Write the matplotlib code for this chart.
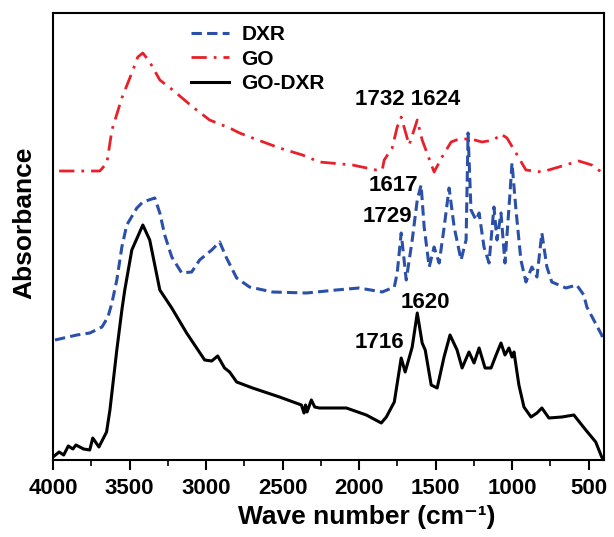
import numpy as np
import matplotlib.pyplot as plt
from matplotlib.ticker import MultipleLocator

plt.rcParams['font.family'] = ['Liberation Sans', 'DejaVu Sans']
plt.rcParams['font.weight'] = 'bold'

# ---------------------------------
# SPECTRA (arbitrary absorbance units, offsets included)
# ---------------------------------

go_wn = [3960, 3694, 3648, 3615, 3550, 3485, 3446, 3413, 3368, 3302, 3218, 3087,
         2977, 2846, 2781, 2696, 2520, 2370, 2260, 2044, 1888, 1849, 1836, 1784,
         1751, 1725, 1673, 1620, 1588, 1510, 1458, 1399, 1347, 1269, 1197, 1119,
         1073, 1034, 975, 910, 806, 695, 565, 480, 400]
go_abs = [2.89, 2.89, 2.97, 3.30, 3.62, 3.87, 4.03, 4.07, 3.98, 3.80, 3.70, 3.53,
          3.40, 3.32, 3.27, 3.22, 3.12, 3.05, 2.98, 2.95, 2.90, 2.90, 3.00, 3.12,
          3.33, 3.43, 3.15, 3.40, 3.20, 2.88, 3.03, 3.18, 3.21, 3.21, 3.18, 3.20,
          3.26, 3.22, 3.07, 2.90, 2.88, 2.93, 2.99, 2.95, 2.86]

dxr_wn = [3987, 3844, 3759, 3680, 3641, 3615, 3583, 3550, 3518, 3452, 3413, 3335,
          3302, 3270, 3224, 3159, 3094, 3042, 2963, 2911, 2866, 2800, 2716, 2566,
          2344, 2149, 2000, 1849, 1770, 1751, 1725, 1692, 1653, 1620, 1595, 1575,
          1542, 1510, 1477, 1445, 1412, 1379, 1334, 1301, 1288, 1269, 1236, 1216,
          1184, 1151, 1119, 1099, 1073, 1047, 1014, 1001, 975, 943, 910, 871,
          838, 806, 773, 741, 649, 578, 532, 512, 467, 415, 400]
dxr_abs = [1.20, 1.25, 1.27, 1.33, 1.43, 1.57, 1.80, 2.13, 2.35, 2.52, 2.58, 2.62,
           2.47, 2.25, 2.03, 1.87, 1.88, 2.00, 2.10, 2.18, 2.02, 1.82, 1.73, 1.68,
           1.67, 1.70, 1.72, 1.68, 1.73, 1.87, 2.27, 1.80, 2.20, 2.60, 2.75, 2.33,
           1.93, 2.13, 1.97, 2.32, 2.72, 2.33, 2.00, 2.20, 3.27, 2.50, 2.40, 2.47,
           2.13, 1.97, 2.53, 2.20, 2.47, 1.97, 2.67, 2.97, 2.50, 2.00, 1.78, 1.93,
           1.83, 2.27, 1.93, 1.78, 1.72, 1.75, 1.65, 1.53, 1.40, 1.25, 1.18]

godxr_wn = [4000, 3960, 3930, 3900, 3870, 3850, 3800, 3760, 3740, 3700, 3650, 3628,
            3583, 3550, 3531, 3485, 3413, 3368, 3302, 3224, 3127, 3009, 2963, 2924,
            2879, 2846, 2800, 2696, 2520, 2377, 2360, 2350, 2340, 2312, 2290, 2260,
            2083, 1953, 1855, 1822, 1770, 1725, 1699, 1653, 1620, 1588, 1568, 1529,
            1490, 1445, 1406, 1360, 1327, 1282, 1249, 1216, 1177, 1138, 1105, 1073,
            1047, 1021, 1001, 988, 956, 923, 877, 838, 806, 760, 675, 597,
            519, 454, 415, 400]
godxr_abs = [0.03, 0.08, 0.05, 0.14, 0.11, 0.15, 0.11, 0.10, 0.22, 0.13, 0.28, 0.50,
             1.10, 1.50, 1.70, 2.10, 2.35, 2.20, 1.70, 1.52, 1.27, 1.00, 0.99, 1.04,
             0.92, 0.88, 0.78, 0.72, 0.63, 0.55, 0.47, 0.55, 0.48, 0.60, 0.53, 0.52,
             0.52, 0.45, 0.37, 0.43, 0.58, 1.02, 0.88, 1.13, 1.47, 1.17, 1.10, 0.75,
             0.72, 1.03, 1.25, 1.10, 0.92, 1.08, 0.97, 1.12, 0.92, 0.92, 1.05, 1.17,
             1.05, 1.12, 1.03, 1.08, 0.75, 0.53, 0.43, 0.47, 0.52, 0.42, 0.43, 0.45,
             0.30, 0.18, 0.03, 0.00]

peak_labels = ["1732 1624", "1617", "1729", "1620", "1716"]

# ---------------------------------
# PLOT
# ---------------------------------

fig = plt.figure(figsize=(6.14, 5.37), dpi=100)
ax = fig.add_axes([0.0863, 0.1434, 0.8974, 0.8324])

ax.plot(dxr_wn, dxr_abs, color='#2b50a8', lw=2.2, linestyle=(0, (3.4, 1.7)), label='DXR')
ax.plot(go_wn, go_abs, color='#e8202a', lw=2.0, linestyle=(0, (5.5, 2.5, 1, 2.5)), label='GO')
ax.plot(godxr_wn, godxr_abs, color='black', lw=2.2, label='GO-DXR')

# peak annotations
ax.text(1686, 3.60, peak_labels[0], fontsize=16, ha='center', va='center')
ax.text(1777, 2.74, peak_labels[1], fontsize=16, ha='center', va='center')
ax.text(1816, 2.43, peak_labels[2], fontsize=16, ha='center', va='center')
ax.text(1568, 1.57, peak_labels[3], fontsize=16, ha='center', va='center')
ax.text(1868, 1.17, peak_labels[4], fontsize=16, ha='center', va='center')

ax.set_xlim(4000, 400)
ax.set_ylim(0, 4.47)
ax.xaxis.set_major_locator(MultipleLocator(500))
ax.xaxis.set_minor_locator(MultipleLocator(250))
ax.set_yticks([])
ax.tick_params(axis='x', which='major', direction='out', length=7, width=1.5,
               labelsize=16, pad=6)
ax.tick_params(axis='x', which='minor', direction='out', length=4, width=1.2)
for s in ax.spines.values():
    s.set_linewidth(1.5)

ax.set_xlabel('Wave number (cm\u207b\u00b9)', fontsize=19, fontweight='bold')
ax.set_ylabel('Absorbance', fontsize=19, fontweight='bold')
ax.xaxis.set_label_coords(0.57, -0.1)
ax.yaxis.set_label_coords(-0.031, 0.53)

ax.legend(loc='upper left', bbox_to_anchor=(0.25, 0.973), frameon=False,
          fontsize=15, handlelength=1.85, handletextpad=0.58, labelspacing=0.27,
          borderpad=0, borderaxespad=0)

fig.savefig('out.png', dpi=100, facecolor='white')
